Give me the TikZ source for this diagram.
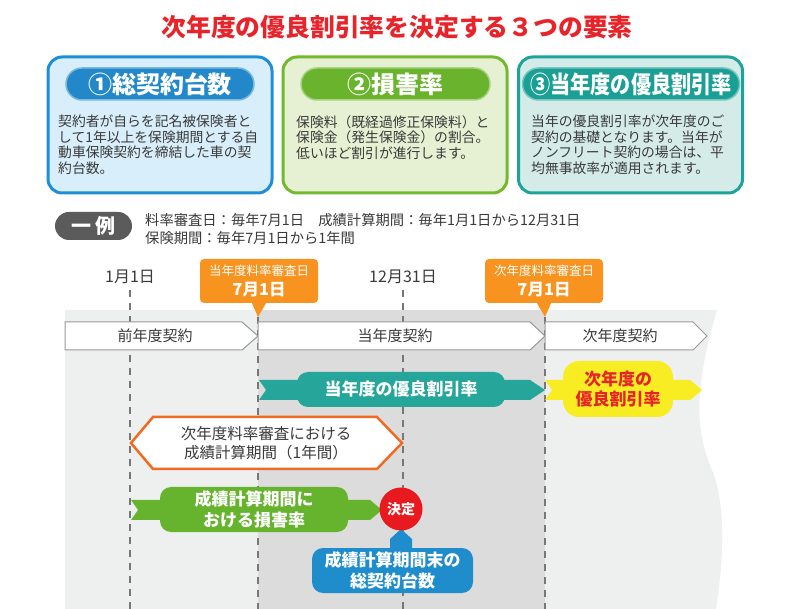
\documentclass[tikz,border=0pt]{standalone}
\usepackage{fontspec}
\usepackage{graphicx}
\setmainfont{Noto Sans CJK JP}

\definecolor{titlered}{HTML}{E8242B}
\definecolor{blueline}{HTML}{1E8FD5}
\definecolor{bluefill}{HTML}{D8EEFA}
\definecolor{bluepill}{HTML}{2288CA}
\definecolor{greenline}{HTML}{72B92E}
\definecolor{greenfill}{HTML}{E6F0D3}
\definecolor{greenpill}{HTML}{6AB42D}
\definecolor{tealline}{HTML}{1DA39A}
\definecolor{tealfill}{HTML}{D4EBE8}
\definecolor{tealpill}{HTML}{1A9F95}
\definecolor{darktext}{HTML}{3A3A3A}
\definecolor{bglight}{HTML}{EEEFEF}
\definecolor{bgmid}{HTML}{DCDCDC}
\definecolor{dashgray}{HTML}{777777}
\definecolor{callorange}{HTML}{F7931E}
\definecolor{hexorange}{HTML}{F26A21}
\definecolor{ribbonteal}{HTML}{26A69A}
\definecolor{ribbonyellow}{HTML}{F8EC22}
\definecolor{ribbongreen}{HTML}{66B32E}
\definecolor{ribbonblue}{HTML}{1F8DCB}
\definecolor{decidered}{HTML}{E8191F}
\definecolor{examplegray}{HTML}{5B5B5B}

\tikzstyle{panel}=[rectangle, rounded corners=14pt, line width=3pt, minimum width=224pt, minimum height=136pt]
\tikzstyle{pill}=[rectangle, rounded corners=16pt, minimum height=32pt, line width=1.5pt, inner sep=0pt, text=white, font={\fontsize{24}{26}\selectfont\bfseries}]
\tikzstyle{bodytext}=[anchor=north west, align=left, inner sep=0pt, text=darktext, font={\fontsize{13.8}{15.5}\selectfont}]
\tikzstyle{infotext}=[anchor=west, inner sep=0pt, text=darktext, font={\fontsize{14.3}{16}\selectfont}]
\tikzstyle{timeline}=[dashgray, line width=2pt, dash pattern=on 7pt off 6pt]
\tikzstyle{datelabel}=[inner sep=0pt, text=darktext, font={\fontsize{16}{18}\selectfont}]
\tikzstyle{contract}=[fill=white, draw=gray!80, line width=1pt]
\tikzstyle{contractlabel}=[inner sep=0pt, text=darktext, font={\fontsize{15}{18}\selectfont}]
\tikzstyle{callbox}=[rectangle, rounded corners=4pt, fill=callorange, minimum width=118pt, minimum height=44pt]
\tikzstyle{calltop}=[inner sep=0pt, text=white, font={\fontsize{12.5}{14}\selectfont}]
\tikzstyle{calldate}=[inner sep=0pt, text=white, font={\fontsize{16.5}{18}\selectfont\bfseries}]
\tikzstyle{ribbon}=[rectangle, rounded corners=11pt, inner sep=0pt, text=white, align=center, font={\fontsize{17}{20.5}\selectfont\bfseries}]

\begin{document}
\begin{tikzpicture}[x=1pt, y=-1pt]
\useasboundingbox (0,0) rectangle (793,609);

% title
\node[text=titlered, font={\fontsize{24.8}{28}\selectfont\bfseries}] (title) at (397,27) {次年度の優良割引率を決定する３つの要素};

% three elements
\node[panel, draw=blueline, fill=bluefill] (panelA) at (160,125) {};
\node[panel, draw=greenline, fill=greenfill] (panelB) at (395,125) {};
\node[panel, draw=tealline, fill=tealfill] (panelC) at (630.5,125) {};

\node[pill, fill=bluepill, draw=bluepill!60!white, minimum width=188pt] (pillA) at (160,84) {①総契約台数};
\node[pill, fill=greenpill, draw=greenpill!60!white, minimum width=189pt] (pillB) at (395.5,84) {②損害率};
\node[pill, fill=tealpill, draw=tealpill!60!white, minimum width=217pt] (pillC) at (631,84) {\scalebox{0.84}[1]{③当年度の優良割引率}};

\node[bodytext] (textA) at (58,115) {契約者が自らを記名被保険者と\\して1年以上を保険期間とする自\\動車保険契約を締結した車の契\\約台数。};
\node[bodytext] (textB) at (296,115) {保険料（既経過修正保険料）と\\保険金（発生保険金）の割合。\\低いほど割引が進行します。};
\node[bodytext] (textC) at (531,115) {当年の優良割引率が次年度のご\\契約の基礎となります。当年が\\ノンフリート契約の場合は、平\\均無事故率が適用されます。};

% example
\node[rectangle, rounded corners=14pt, fill=examplegray, minimum width=77pt, minimum height=28pt, inner sep=0pt, text=white, font={\fontsize{20}{22}\selectfont\bfseries}] (example) at (93.5,226) {一\hspace{4pt}例};
\node[infotext] (infoA) at (145,220) {料率審査日：毎年7月1日　成績計算期間：毎年1月1日から12月31日};
\node[infotext] (infoB) at (145,238) {保険期間：毎年7月1日から1年間};

% background of the time line
\fill[bglight] (65,310) -- (717,310) .. controls (700,370) and (690,420) .. (712,470) .. controls (728,510) and (722,570) .. (716,609) -- (65,609) -- cycle;
\fill[bgmid] (258,310) rectangle (545,609);

\coordinate (dayA) at (130,290);
\coordinate (dayB) at (258,317);
\coordinate (dayC) at (403,290);
\coordinate (dayD) at (545,317);
\foreach \x/\y in {130/290, 258/317, 403/290, 545/317}
  \draw[timeline] (\x,\y) -- (\x,609);

\node[datelabel] (janOne) at (130,277) {1月1日};
\node[datelabel] (decEnd) at (403,277) {12月31日};

% review days
\node[callbox] (reviewA) at (259,281) {};
\node[callbox] (reviewB) at (544,281) {};
\fill[callorange] ([xshift=-7pt]reviewA.south) -- (dayB) -- ([xshift=7pt]reviewA.south) -- cycle;
\fill[callorange] ([xshift=-7pt]reviewB.south) -- (dayD) -- ([xshift=7pt]reviewB.south) -- cycle;
\node[calltop] (reviewAtop) at (259,271) {当年度料率審査日};
\node[calldate] (reviewAdate) at (259,290) {7月1日};
\node[calltop] (reviewBtop) at (544,271) {次年度料率審査日};
\node[calldate] (reviewBdate) at (544,290) {7月1日};

% contracts
\draw[contract] (65,322) -- (242,322) -- (258,336) -- (242,350) -- (65,350) -- cycle;
\draw[contract] (258,322) -- (530,322) -- (545,336) -- (530,350) -- (258,350) -- cycle;
\draw[contract] (545,322) -- (693,322) -- (707,336) -- (693,350) -- (545,350) -- cycle;
\node[contractlabel] (prevYear) at (155,336) {前年度契約};
\node[contractlabel] (thisYear) at (395,336) {当年度契約};
\node[contractlabel] (nextYear) at (620,336) {次年度契約};

% this year's rate
\fill[ribbonteal] (259,380) -- (530,380) -- (545,390) -- (530,400) -- (259,400) -- (266,390) -- cycle;
\node[ribbon, fill=ribbonteal, minimum width=208pt, minimum height=35pt] (rateNow) at (401,389.5) {当年度の優良割引率};

% next year's rate
\fill[ribbonyellow] (545,380) -- (690,380) -- (702,390) -- (690,400) -- (545,400) -- (552,390) -- cycle;
\node[ribbon, fill=ribbonyellow, text=titlered, rounded corners=16pt, minimum width=110pt, minimum height=56pt] (rateNext) at (618,389) {次年度の\\優良割引率};

% calculation period
\draw[hexorange, line width=2.5pt, fill=white, line join=miter] (131,443) -- (153,417) -- (377,417) -- (402,443) -- (377,469) -- (153,469) -- cycle;
\node[text=darktext, align=center, inner sep=0pt, font={\fontsize{15.5}{19}\selectfont}] (calcPeriod) at (266,443) {次年度料率審査における\\成績計算期間（1年間）};

% loss ratio
\fill[ribbongreen] (131,500) -- (370,500) -- (382,510) -- (370,520) -- (131,520) -- (138,510) -- cycle;
\node[ribbon, fill=ribbongreen, minimum width=188pt, minimum height=45pt] (lossRate) at (254,509.5) {成績計算期間に\\おける損害率};

% total number of contracts
\fill[ribbonblue] (390,550) -- (390,539) -- (401,529) -- (412,539) -- (412,550) -- cycle;
\node[ribbon, fill=ribbonblue, minimum width=161pt, minimum height=45pt] (countEnd) at (392.5,570.5) {成績計算期間末の\\総契約台数};

\node[circle, fill=decidered, minimum size=43pt, inner sep=0pt, text=white, font={\fontsize{14}{16}\selectfont\bfseries}] (decide) at (401,509) {決定};
\end{tikzpicture}
\end{document}
